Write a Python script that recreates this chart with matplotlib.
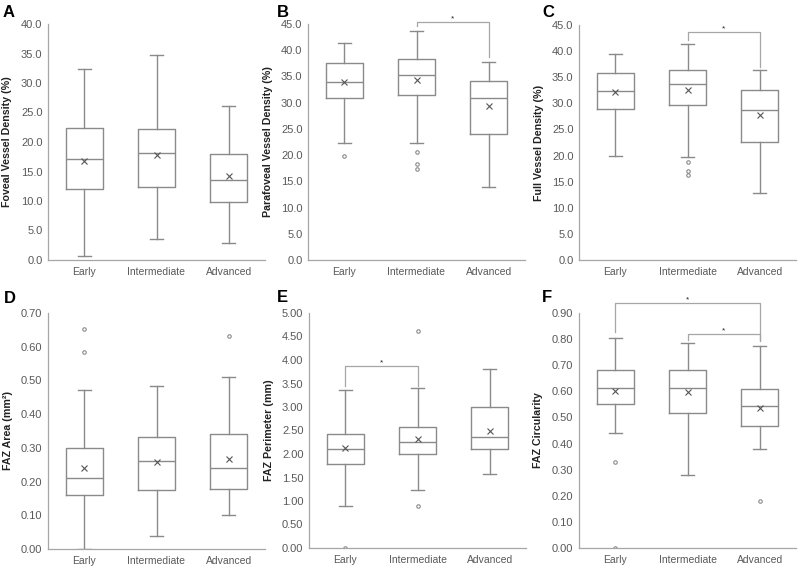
import matplotlib
matplotlib.use("Agg")
import matplotlib.pyplot as plt
import numpy as np

plt.rcParams['font.family'] = ['Liberation Sans', 'DejaVu Sans']

groups = ["Early", "Intermediate", "Advanced"]

# per panel: whisker low, Q1, median, Q3, whisker high, mean, outliers
A_low = [0.7, 3.5, 2.8]
A_q1 = [12.1, 12.3, 9.9]
A_med = [17.2, 18.1, 13.6]
A_q3 = [22.4, 22.2, 18.0]
A_high = [32.3, 34.8, 26.1]
A_mean = [16.85, 17.8, 14.2]
A_out = [[], [], []]

B_low = [22.4, 22.4, 14.0]
B_q1 = [30.8, 31.4, 24.0]
B_med = [33.95, 35.2, 30.8]
B_q3 = [37.5, 38.4, 34.1]
B_high = [41.4, 43.6, 37.8]
B_mean = [33.9, 34.3, 29.4]
B_out = [[19.9], [20.5, 18.4, 17.4], []]

C_low = [19.9, 19.7, 12.9]
C_q1 = [29.0, 29.7, 22.6]
C_med = [32.4, 33.7, 28.8]
C_q3 = [35.8, 36.4, 32.5]
C_high = [39.4, 41.3, 36.3]
C_mean = [32.2, 32.5, 27.7]
C_out = [[], [18.7, 17.0, 16.3], []]

D_low = [0.0, 0.04, 0.10]
D_q1 = [0.160, 0.175, 0.178]
D_med = [0.211, 0.260, 0.240]
D_q3 = [0.301, 0.331, 0.341]
D_high = [0.472, 0.482, 0.511]
D_mean = [0.239, 0.257, 0.268]
D_out = [[0.652, 0.583], [], [0.632]]

E_low = [0.90, 1.23, 1.57]
E_q1 = [1.79, 2.01, 2.10]
E_med = [2.11, 2.25, 2.37]
E_q3 = [2.42, 2.58, 3.01]
E_high = [3.37, 3.40, 3.80]
E_mean = [2.12, 2.31, 2.50]
E_out = [[0.0], [4.62, 0.90], []]

F_low = [0.441, 0.280, 0.380]
F_q1 = [0.551, 0.516, 0.469]
F_med = [0.612, 0.612, 0.542]
F_q3 = [0.683, 0.683, 0.609]
F_high = [0.803, 0.784, 0.773]
F_mean = [0.603, 0.597, 0.535]
F_out = [[0.330, 0.0], [], [0.180]]

ylabels = ["Foveal Vessel Density (%)", "Parafoveal Vessel Density (%)",
           "Full Vessel Density (%)", "FAZ Area (mm²)",
           "FAZ Perimeter (mm)", "FAZ Circularity"]
letters = ["A", "B", "C", "D", "E", "F"]
ymax = [40, 45, 45, 0.70, 5.0, 0.90]
ystep = [5, 5, 5, 0.10, 0.50, 0.10]
yfmt = ["%.1f", "%.1f", "%.1f", "%.2f", "%.2f", "%.2f"]

# brackets: (group i, group j, bar y, left leg end, right leg end)
brackets = [
    [],
    [(1, 2, 45.3, 44.6, 38.7)],
    [(1, 2, 43.6, 42.2, 37.0)],
    [],
    [(0, 1, 3.87, 3.44, 3.44)],
    [(0, 2, 0.938, 0.827, 0.795), (1, 2, 0.818, 0.798, 0.792)],
]

data = [
    (A_low, A_q1, A_med, A_q3, A_high, A_mean, A_out),
    (B_low, B_q1, B_med, B_q3, B_high, B_mean, B_out),
    (C_low, C_q1, C_med, C_q3, C_high, C_mean, C_out),
    (D_low, D_q1, D_med, D_q3, D_high, D_mean, D_out),
    (E_low, E_q1, E_med, E_q3, E_high, E_mean, E_out),
    (F_low, F_q1, F_med, F_q3, F_high, F_mean, F_out),
]

fig = plt.figure(figsize=(8, 5.67), dpi=100)
W, H = 800, 567
lefts = [48, 308, 579, 48, 309, 579]
tops = [24, 24, 25, 313, 313, 313]
bottoms = [260, 260, 260, 549, 548, 548]
aw = 217
ylab_x = [12.5, 273, 543.5, 13, 274, 543]
let_x = [3, 277, 542, 4, 277, 542]
let_y = [5, 5, 5, 291, 290, 290]

line_c = "#8a8a8a"
txt_c = "#595959"

for k in range(6):
    l, t, b = lefts[k], tops[k], bottoms[k]
    ax = fig.add_axes([l / W, (H - b) / H, aw / W, (b - t) / H])
    low, q1, med, q3, high, mean, out = data[k]
    stats = []
    for i in range(3):
        stats.append(dict(whislo=low[i], q1=q1[i], med=med[i], q3=q3[i],
                          whishi=high[i], mean=mean[i], fliers=out[i]))
    lp = dict(color=line_c, linewidth=1.0)
    ax.bxp(stats, positions=[0, 1, 2], widths=0.51, showmeans=True,
           boxprops=lp, whiskerprops=lp, capprops=lp,
           medianprops=dict(color=line_c, linewidth=1.0),
           meanprops=dict(marker='x', markeredgecolor="#555555",
                          markersize=4, markeredgewidth=0.8),
           flierprops=dict(marker='o', markersize=2.5, markerfacecolor='none',
                           markeredgecolor="#8a8a8a", markeredgewidth=0.8),
           capwidths=0.18, manage_ticks=False)
    ax.set_xlim(-0.5, 2.5)
    ax.set_ylim(0, ymax[k])
    ticks = np.arange(0, ymax[k] + ystep[k] / 2, ystep[k])
    ax.set_yticks(ticks)
    ax.set_yticklabels([yfmt[k] % v for v in ticks])
    ax.set_xticks([0, 1, 2])
    ax.set_xticklabels(groups)
    ax.tick_params(axis='y', length=0, labelsize=8, colors=txt_c, pad=4)
    ax.tick_params(axis='x', length=0, labelsize=7.5, colors=txt_c, pad=5)
    for s in ['top', 'right']:
        ax.spines[s].set_visible(False)
    for s in ['left', 'bottom']:
        ax.spines[s].set_color("#a6a6a6")
        ax.spines[s].set_linewidth(0.9)
    ax.set_ylabel(ylabels[k], fontsize=7.7, fontweight='bold', color="#222222")
    ax.yaxis.set_label_coords((ylab_x[k] - l) / aw, 0.5)
    ax.patch.set_alpha(0)
    for (i, j, yb, yl, yr) in brackets[k]:
        ax.plot([i, i, j, j], [yl, yb, yb, yr], color="#a6a6a6", linewidth=0.9,
                clip_on=False)
        ax.text((i + j) / 2, yb, "*", ha='center', va='bottom', fontsize=6,
                color="#222222")
    fig.text(let_x[k] / W, 1 - let_y[k] / H, letters[k], fontsize=12,
             fontweight='bold', ha='left', va='top')

fig.savefig("out.png", dpi=100)
